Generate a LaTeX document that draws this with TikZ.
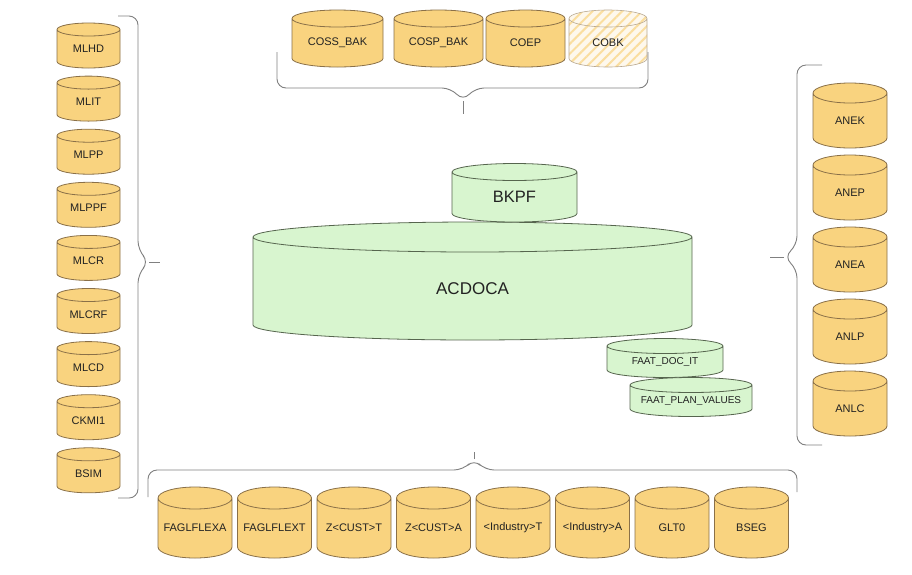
\documentclass[tikz,border=0pt]{standalone}
\usepackage{fontspec}
\setmainfont{Liberation Sans}
\usetikzlibrary{positioning, calc, backgrounds, patterns.meta}

\definecolor{tblfill}{HTML}{F9D37F}
\definecolor{tbldraw}{HTML}{8A7048}
\definecolor{corefill}{HTML}{D8F5CF}
\definecolor{coredraw}{HTML}{56654E}
\definecolor{bracegray}{HTML}{808080}
\definecolor{labeltext}{HTML}{222222}

% cylinder round a named node: style, node, cap depth (pt)
\newcommand\dbshape[3][tblbody]{%
  \path[#1] let \p1=(#2.north west), \p2=(#2.south east), \n1={(\x2-\x1)/2} in
    (\x1,\y1) -- (\x1,\y2+#3pt)
    arc[start angle=180, end angle=360, x radius=\n1, y radius=#3pt]
    -- (\x2,\y1)
    arc[start angle=0, end angle=180, x radius=\n1, y radius=#3pt] -- cycle
    (\x1,\y1) arc[start angle=180, end angle=360, x radius=\n1, y radius=#3pt];
}

\begin{document}
\begin{tikzpicture}[
  x=1pt, y=-1pt,
  tbl/.style={rectangle, inner sep=0pt, outer sep=0pt, text=labeltext,
              font=\fontsize{11}{13}\selectfont},
  sidetbl/.style={tbl, minimum width=63pt, minimum height=38.5pt},
  toptbl/.style={tbl, minimum height=48.5pt},
  asttbl/.style={tbl, minimum width=74pt, minimum height=55pt},
  gltbl/.style={tbl, minimum width=74pt, minimum height=60pt},
  faat/.style={tbl, minimum height=31.5pt, font=\fontsize{10}{12}\selectfont},
  tblbody/.style={draw=tbldraw, fill=tblfill, line width=0.8pt},
  corebody/.style={draw=coredraw, fill=corefill, line width=0.8pt},
  hatchbody/.style={draw=tbldraw!60, line width=0.6pt,
                    preaction={fill=tblfill!15},
                    pattern={Lines[angle=45, distance=7pt, line width=2pt]},
                    pattern color=tblfill!75},
  grp/.style={draw=bracegray, line width=0.9pt, rounded corners=9pt},
]
\useasboundingbox (0,0) rectangle (912,574);

% material ledger tables
\node[sidetbl] (mlhd) at (88.5,48.75) {MLHD};
\node[sidetbl, below=14.6pt of mlhd]  (mlit)  {MLIT};
\node[sidetbl, below=14.6pt of mlit]  (mlpp)  {MLPP};
\node[sidetbl, below=14.6pt of mlpp]  (mlppf) {MLPPF};
\node[sidetbl, below=14.6pt of mlppf] (mlcr)  {MLCR};
\node[sidetbl, below=14.6pt of mlcr]  (mlcrf) {MLCRF};
\node[sidetbl, below=14.6pt of mlcrf] (mlcd)  {MLCD};
\node[sidetbl, below=14.6pt of mlcd]  (ckmi)  {CKMI1};
\node[sidetbl, below=14.6pt of ckmi]  (bsim)  {BSIM};

% controlling tables
\node[toptbl, minimum width=91pt] (cossbak) at (337.5,42.75) {COSS\_BAK};
\node[toptbl, minimum width=89pt, right=11pt of cossbak] (cospbak) {COSP\_BAK};
\node[toptbl, minimum width=79pt, right=3pt of cospbak]  (coep)    {COEP};
\node[toptbl, minimum width=78pt, right=4pt of coep]     (cobk)    {COBK};

% asset tables
\node[asttbl] (anek) at (850,120.5) {ANEK};
\node[asttbl, below=17pt of anek] (anep) {ANEP};
\node[asttbl, below=17pt of anep] (anea) {ANEA};
\node[asttbl, below=17pt of anea] (anlp) {ANLP};
\node[asttbl, below=17pt of anlp] (anlc) {ANLC};

% general ledger tables
\node[gltbl] (flexa) at (195,528) {FAGLFLEXA};
\node[gltbl, right=5.5pt of flexa] (flext) {FAGLFLEXT};
\node[gltbl, right=5.5pt of flext] (custt) {Z<CUST>T};
\node[gltbl, right=5.5pt of custt] (custa) {Z<CUST>A};
\node[gltbl, right=5.5pt of custa] (indt)  {<Industry>T};
\node[gltbl, right=5.5pt of indt]  (inda)  {<Industry>A};
\node[gltbl, right=5.5pt of inda]  (glt)   {GLT0};
\node[gltbl, right=5.5pt of glt]   (bseg)  {BSEG};

% universal journal
\node[tbl, minimum width=439pt, minimum height=103pt,
      font=\fontsize{17}{20}\selectfont] (acdoca) at (472.5,288.5) {ACDOCA};
\node[tbl, minimum width=125pt, minimum height=50pt,
      font=\fontsize{16.5}{20}\selectfont] (bkpf) at (514.5,197) {BKPF};
\node[faat, minimum width=116pt] (faatdoc) at (665,361.75) {FAAT\_DOC\_IT};
\node[faat, minimum width=122pt, below=7.5pt of faatdoc, xshift=26pt] (faatplan) {FAAT\_PLAN\_VALUES};

\begin{scope}[on background layer]
  \fill[white] (0,0) rectangle (912,574);
  \foreach \tb in {mlhd, mlit, mlpp, mlppf, mlcr, mlcrf, mlcd, ckmi, bsim}
    {\dbshape{\tb}{6.5}}
  \foreach \tb in {cossbak, cospbak, coep}
    {\dbshape{\tb}{8.5}}
  \dbshape[hatchbody]{cobk}{8.5}
  \foreach \tb in {anek, anep, anea, anlp, anlc}
    {\dbshape{\tb}{10}}
  \foreach \tb in {flexa, flext, custt, custa, indt, inda, glt, bseg}
    {\dbshape{\tb}{11}}
  \dbshape[corebody]{acdoca}{15}
  \dbshape[corebody]{bkpf}{8.5}
  \dbshape[corebody]{faatdoc}{7.5}
  \dbshape[corebody]{faatplan}{7.5}
\end{scope}

% braces
\draw[grp] (118,16) -- (138,16) -- (138,250) -- (149,262) -- (138,274) -- (138,498) -- (118,498);
\draw[grp, rounded corners=0pt] (149,262) -- (160,262);
\draw[grp] (277,52) -- (277,88) -- (451,88) -- (463,101) -- (475,88) -- (648,88) -- (648,52);
\draw[grp, rounded corners=0pt] (463,101) -- (463,114);
\draw[grp] (822,65) -- (797,65) -- (797,245) -- (784,257) -- (797,269) -- (797,445) -- (822,445);
\draw[grp, rounded corners=0pt] (784,257) -- (770,257);
\draw[grp] (148,497) -- (148,470) -- (463,470) -- (474,459) -- (485,470) -- (797,470) -- (797,492);
\draw[grp, rounded corners=0pt] (474,459) -- (474,452);
\end{tikzpicture}
\end{document}
